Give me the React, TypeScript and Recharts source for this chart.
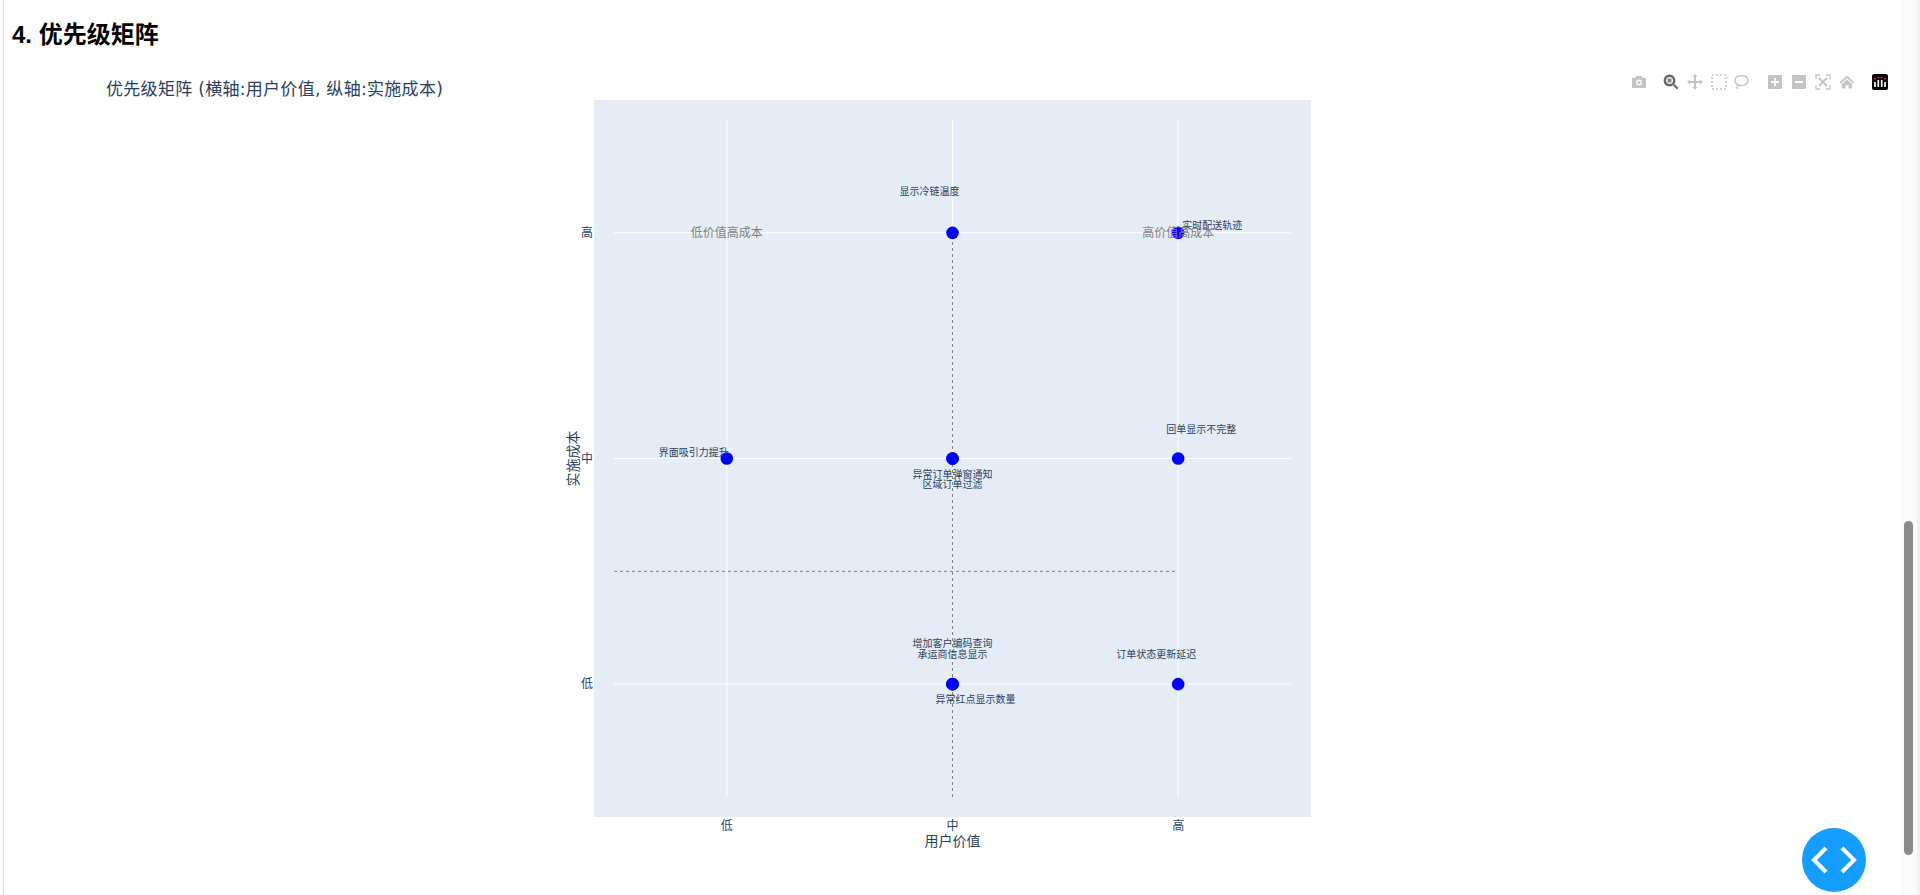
import React from "react";
import { ScatterChart, Scatter, XAxis, YAxis, CartesianGrid, ReferenceLine, ReferenceDot } from "recharts";

const LEVELS = ["低", "中", "高"];
const FEATURES = [
  "显示冷链温度", "实时配送轨迹", "界面吸引力提升", "异常订单弹窗通知", "区域订单过滤",
  "回单显示不完整", "增加客户编码查询", "承运商信息显示", "异常红点显示数量", "订单状态更新延迟",
];
const USER_VALUE = [1, 2, 0, 1, 1, 2, 1, 1, 1, 2];
const COST = [2, 2, 1, 1, 1, 1, 0, 0, 0, 0];
const points = FEATURES.map((name, i) => ({ name, x: USER_VALUE[i], y: COST[i] }));

const QUADRANTS = [
  { text: "低价值高成本", x: 0, y: 2 },
  { text: "高价值高成本", x: 2, y: 2 },
];

// label placement relative to marker (px)
const LABEL_OFFSET: Record<string, [number, number]> = {
  显示冷链温度: [-23, -42],
  实时配送轨迹: [34, -8],
  界面吸引力提升: [-33, -7],
  异常订单弹窗通知: [0, 15],
  区域订单过滤: [0, 25.500],
  回单显示不完整: [23, -30],
  增加客户编码查询: [0, -41],
  承运商信息显示: [0, -30],
  异常红点显示数量: [23, 15],
  订单状态更新延迟: [-22, -30],
};

const FONT = '"Open Sans", "Noto Sans CJK SC", sans-serif';
const INK = "#2a3f5f";

const Marker = (p: any) => {
  const name = p.name ?? p.payload?.name;
  const [dx, dy] = LABEL_OFFSET[name] ?? [0, 0];
  return (
    <g>
      <circle cx={p.cx} cy={p.cy} r={6.3} fill="#0000ff" />
      <text x={p.cx + dx} y={p.cy + dy} fontSize={10} fill={INK} textAnchor="middle" dominantBaseline="central" fontFamily={FONT}>
        {name}
      </text>
    </g>
  );
};

const Quadrant = (text: string) => (p: any) => (
  <text x={p.cx} y={p.cy} fontSize={12} fill="#808080" textAnchor="middle" dominantBaseline="central" fontFamily={FONT}>
    {text}
  </text>
);

const G = "#c4c4c4";
const Icon = ({ x, children, fill = G }: { x: number; children: React.ReactNode; fill?: string }) => (
  <svg style={{ position: "absolute", left: x - 8, top: 74 }} width={16} height={16} viewBox="0 0 16 16" fill={fill}>
    {children}
  </svg>
);

const Modebar = () => (
  <>
    <Icon x={1639}>
      <path d="M1 4h3l1.5-2h5L12 4h3v10H1z" />
      <circle cx={8} cy={8.5} r={3} fill="#fff" />
      <circle cx={8} cy={8.5} r={1.6} />
    </Icon>
    <Icon x={1671} fill="#666">
      <circle cx={6.5} cy={6.5} r={4.7} fill="none" stroke="#666" strokeWidth={2.4} />
      <rect x={4.5} y={4.5} width={4} height={4} fill="#888" />
      <path d="M10 11.5l1.5-1.5 4 4-1.5 1.5z" />
    </Icon>
    <Icon x={1695}>
      <path d="M8 0l2.5 3H9v4h4V5.5L16 8l-3 2.500V9H9v4h1.500L8 16l-2.500-3H7V9H3v1.500L0 8l3-2.500V7h4V3H5.500z" />
    </Icon>
    <Icon x={1719}>
      <rect x={1} y={1} width={14} height={14} fill="none" stroke={G} strokeWidth={1.6} strokeDasharray="2 2" />
    </Icon>
    <Icon x={1741}>
      <ellipse cx={8.5} cy={6.5} rx={6.5} ry={5} fill="none" stroke={G} strokeWidth={1.5} />
      <path d="M5 11c-1 1 -1 3 0 4" fill="none" stroke={G} strokeWidth={1.5} />
    </Icon>
    <Icon x={1775}>
      <rect x={1} y={1} width={14} height={14} rx={1} />
      <path d="M7 4h2v3h3v2H9v3H7V9H4V7h3z" fill="#fff" />
    </Icon>
    <Icon x={1799}>
      <rect x={1} y={1} width={14} height={14} rx={1} />
      <rect x={4} y={7} width={8} height={2} fill="#fff" />
    </Icon>
    <Icon x={1823}>
      <path d="M1 5V1h4M11 1h4v4M15 11v4h-4M5 15H1v-4" fill="none" stroke={G} strokeWidth={1.3} />
      <path d="M4 4l8 8M12 4l-8 8" stroke={G} strokeWidth={1.8} />
    </Icon>
    <Icon x={1847}>
      <path d="M8 1.500L0.500 8.500 2 9.500 8 4l6 5.500 1.500-1zM3 10l5-4.500 5 4.500v4.500H9.500V11h-3v3.500H3z" />
    </Icon>
    <svg style={{ position: "absolute", left: 1872, top: 74 }} width={16} height={16} viewBox="0 0 16 16">
      <rect width={16} height={16} rx={2} fill="#000" />
      <path d="M3 8v5M6.300 6v7M9.700 6v7M13 8v5" stroke="#fff" strokeWidth={1.700} />
      <path d="M3 4v1.500M6.300 3v1.500M9.700 3v1.500M13 4v1.500" stroke="#e6196e" strokeWidth={1.700} />
    </svg>
  </>
);

export default function App() {
  return (
    <div style={{ position: "absolute", left: 0, top: 0, width: 1920, height: 895, overflow: "hidden", background: "#fff", fontFamily: FONT }}>
      <div style={{ position: "absolute", left: 0, top: 0, width: 3, height: 895, background: "#f7f7f7", borderRight: "1px solid #e3e3e3" }} />
      <div style={{ position: "absolute", left: 12, top: 18, fontSize: 24, lineHeight: "34px", fontWeight: 700, color: "#000", fontFamily: '"Liberation Sans", "Noto Sans CJK SC", sans-serif' }}>
        4. 优先级矩阵
      </div>
      <div style={{ position: "absolute", left: 106, top: 77, fontSize: 17, lineHeight: "24px", letterSpacing: 0.3, color: INK, whiteSpace: "nowrap", fontFamily: '"DejaVu Sans", "Noto Sans CJK SC", sans-serif' }}>
        优先级矩阵 (横轴:用户价值, 纵轴:实施成本)
      </div>
      <Modebar />

      <div style={{ position: "absolute", left: 594, top: 100, width: 717, height: 717, background: "#e5ecf6" }} />
      <div style={{ position: "absolute", left: 0, top: 0 }}>
        <ScatterChart width={1920} height={895} margin={{ left: 564, right: 629, top: 120, bottom: 48 }}>
          <CartesianGrid stroke="#ffffff" strokeWidth={1} syncWithTicks horizontalValues={[0, 1, 2]} verticalValues={[0, 1, 2]} />
          <XAxis
            type="number"
            dataKey="x"
            domain={[-0.5, 2.5]}
            ticks={[0, 1, 2]}
            tickFormatter={(v: number) => LEVELS[v]}
            axisLine={false}
            tickLine={false}
            tickSize={0}
            tickMargin={24}
            height={50}
            tick={{ fontSize: 12, fill: INK, fontFamily: FONT }}
            label={{ value: "用户价值", position: "insideBottom", offset: 1, fontSize: 14, fill: INK, fontFamily: FONT }}
            allowDataOverflow
          />
          <YAxis
            type="number"
            dataKey="y"
            domain={[-0.5, 2.5]}
            ticks={[0, 1, 2]}
            tickFormatter={(v: number) => LEVELS[v]}
            axisLine={false}
            tickLine={false}
            tickSize={0}
            tickMargin={21}
            width={50}
            tick={{ fontSize: 12, fill: INK, fontFamily: FONT }}
            label={{ value: "实施成本", angle: -90, position: "insideLeft", offset: 9, fontSize: 14, fill: INK, fontFamily: FONT, style: { textAnchor: "middle" } }}
            allowDataOverflow
          />
          <Scatter data={points} fill="#0000ff" isAnimationActive={false} shape={Marker} />
          <ReferenceLine segment={[{ x: 1, y: -0.5 }, { x: 1, y: 2 }]} stroke="#808080" strokeDasharray="3 3" strokeWidth={1} />
          <ReferenceLine segment={[{ x: -0.5, y: 0.5 }, { x: 2, y: 0.5 }]} stroke="#808080" strokeDasharray="3 3" strokeWidth={1} />
          {QUADRANTS.map((q) => (
            <ReferenceDot key={q.text} x={q.x} y={q.y} r={0} shape={Quadrant(q.text)} />
          ))}
        </ScatterChart>
      </div>

      <div style={{ position: "absolute", left: 1901, top: 0, width: 16, height: 895, background: "#fafafa" }} />
      <div style={{ position: "absolute", left: 1917, top: 0, width: 3, height: 895, background: "#f0f0f0" }} />
      <div style={{ position: "absolute", left: 1904, top: 521, width: 9, height: 334, borderRadius: 5, background: "#8a8a8a" }} />
      <svg style={{ position: "absolute", left: 1802, top: 828 }} width={64} height={64} viewBox="0 0 64 64">
        <circle cx={32} cy={32} r={32} fill="#159dff" />
        <path d="M24 20L12 32l12 12M40 20l12 12-12 12" fill="none" stroke="#fff" strokeWidth={4} />
      </svg>
    </div>
  );
}
